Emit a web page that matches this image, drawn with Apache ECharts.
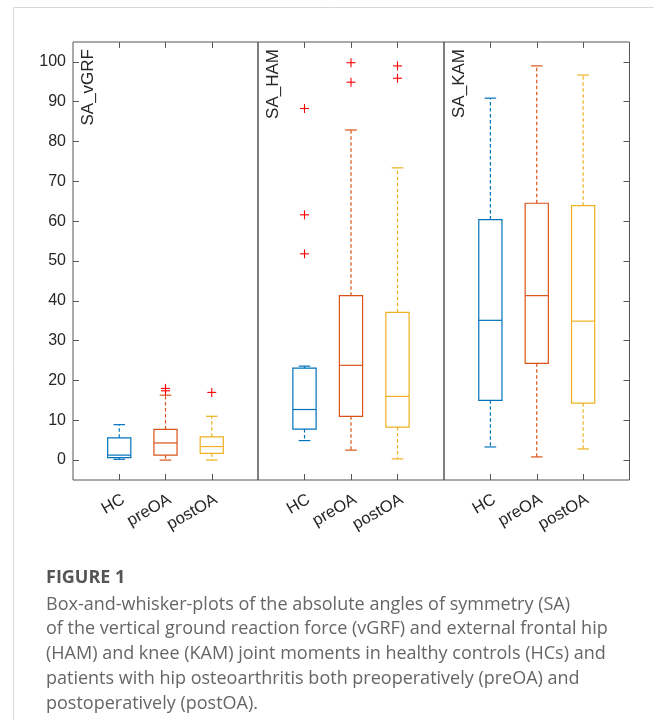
<!DOCTYPE html>
<html><head><meta charset="utf-8">
<script src="https://cdn.jsdelivr.net/npm/echarts@6/dist/echarts.min.js"></script>
<style>html,body{margin:0;padding:0;background:#fff}#c{width:654px;height:720px}</style>
</head><body><div id="c"></div><script>
// ---- data ----
const groups = ['HC', 'preOA', 'postOA'];
const panelNames = ['SA_vGRF', 'SA_HAM', 'SA_KAM'];
const yTicks = [0, 10, 20, 30, 40, 50, 60, 70, 80, 90, 100];
// per group: [lower whisker, Q1, median, Q3, upper whisker]
const vGRFBox = [[0.2, 0.6, 1.25, 5.6, 8.9], [0, 1.25, 4.3, 7.7, 16.3], [0, 1.7, 3.4, 5.85, 11.0]];
const HAMBox  = [[4.9, 7.8, 12.7, 23.1, 23.6], [2.5, 11.0, 23.8, 41.3, 82.9], [0.3, 8.3, 16.0, 37.1, 73.4]];
const KAMBox  = [[3.3, 15.0, 35.1, 60.4, 90.9], [0.8, 24.3, 41.3, 64.5, 99.0], [2.8, 14.3, 34.9, 63.9, 96.7]];
const vGRFOut = [[], [17.4, 18.0], [17.0]];
const HAMOut  = [[51.8, 61.6, 88.3], [94.9, 99.8], [95.9, 99.0]];
const KAMOut  = [[], [], []];
const captionTitle = 'FIGURE 1';
const captionLines = [
  'Box-and-whisker-plots of the absolute angles of symmetry (SA)',
  'of the vertical ground reaction force (vGRF) and external frontal hip',
  '(HAM) and knee (KAM) joint moments in healthy controls (HCs) and',
  'patients with hip osteoarthritis both preoperatively (preOA) and',
  'postoperatively (postOA).'
];

// ---- chart ----
const colors = ['#0072BD', '#D95319', '#EDB120'];
const axisCol = '#555555';
const boxes = [vGRFBox, HAMBox, KAMBox];
const outs = [vGRFOut, HAMOut, KAMOut];
const cats = [''].concat(groups, ['']);
const gridPos = [{left: 73, width: 185}, {left: 258, width: 186}, {left: 444, width: 185.5}];
const gTop = 42, gH = 438;

function renderBox(params, api) {
  const xi = api.value(0);
  const col = colors[xi - 1];
  const bw = api.size([1, 0])[0];
  const hw = bw * 0.25, cw = bw * 0.125;
  const lo = api.coord([xi, api.value(1)]);
  const q1 = api.coord([xi, api.value(2)]);
  const md = api.coord([xi, api.value(3)]);
  const q3 = api.coord([xi, api.value(4)]);
  const hi = api.coord([xi, api.value(5)]);
  const x = lo[0];
  const solid = {stroke: col, lineWidth: 1.2, fill: null};
  const dash = {stroke: col, lineWidth: 1.2, lineDash: [3.5, 2.5], fill: null};
  return {type: 'group', children: [
    {type: 'line', shape: {x1: x, y1: q3[1], x2: x, y2: hi[1]}, style: dash},
    {type: 'line', shape: {x1: x, y1: q1[1], x2: x, y2: lo[1]}, style: dash},
    {type: 'line', shape: {x1: x - cw, y1: hi[1], x2: x + cw, y2: hi[1]}, style: solid},
    {type: 'line', shape: {x1: x - cw, y1: lo[1], x2: x + cw, y2: lo[1]}, style: solid},
    {type: 'rect', shape: {x: x - hw, y: q3[1], width: 2 * hw, height: q1[1] - q3[1]}, style: solid},
    {type: 'line', shape: {x1: x - hw, y1: md[1], x2: x + hw, y2: md[1]}, style: solid}
  ]};
}
function renderPlus(params, api) {
  const p = api.coord([api.value(0), api.value(1)]);
  const s = 4.5;
  const st = {stroke: '#FF0000', lineWidth: 1.1};
  return {type: 'group', children: [
    {type: 'line', shape: {x1: p[0] - s, y1: p[1], x2: p[0] + s, y2: p[1]}, style: st},
    {type: 'line', shape: {x1: p[0], y1: p[1] - s, x2: p[0], y2: p[1] + s}, style: st}
  ]};
}

const grid = [], xAxis = [], yAxis = [], series = [], graphic = [];
const tickInt = function (i) { return i >= 1 && i <= 3; };
for (let g = 0; g < 3; g++) {
  grid.push({left: gridPos[g].left, width: gridPos[g].width, top: gTop, height: gH,
    show: true, borderColor: axisCol, borderWidth: 1, backgroundColor: 'transparent', outerBoundsMode: 'none'});
  const xBase = {type: 'category', data: cats, boundaryGap: false, gridIndex: g,
    axisLine: {show: false, onZero: false}, splitLine: {show: false},
    axisTick: {show: true, inside: true, length: 6, interval: tickInt, lineStyle: {color: axisCol}}};
  xAxis.push(Object.assign({}, xBase, {position: 'bottom',
    axisLabel: {show: true, interval: tickInt, rotate: 30, margin: 11, fontSize: 16.5,
      verticalAlign: 'top', color: '#262626', fontFamily: 'Liberation Sans'}}));
  xAxis.push(Object.assign({}, xBase, {position: 'top', axisLabel: {show: false}}));
  yAxis.push({type: 'value', gridIndex: g, min: -5, max: 105, position: 'left',
    axisLine: {show: false, onZero: false}, splitLine: {show: false},
    axisTick: {show: g === 0, inside: true, length: 6, customValues: yTicks, lineStyle: {color: axisCol}},
    axisLabel: {show: g === 0, customValues: yTicks, fontSize: 16, margin: 7,
      color: '#262626', fontFamily: 'Liberation Sans'}});
  const boxData = boxes[g].map((b, i) => [i + 1].concat(b));
  series.push({type: 'custom', xAxisIndex: 2 * g, yAxisIndex: g, renderItem: renderBox,
    data: boxData, silent: true, clip: false});
  const outData = [];
  outs[g].forEach((arr, i) => arr.forEach(v => outData.push([i + 1, v])));
  series.push({type: 'custom', xAxisIndex: 2 * g, yAxisIndex: g, renderItem: renderPlus,
    data: outData, silent: true, clip: false});
  graphic.push({type: 'text', x: gridPos[g].left + 7, y: gTop + 7, rotation: Math.PI / 2,
    style: {text: panelNames[g], font: '17px "Liberation Sans"', fill: '#262626',
      textAlign: 'right', textVerticalAlign: 'top'}});
}
// right-side ticks on last panel
yAxis.push({type: 'value', gridIndex: 2, min: -5, max: 105, position: 'right',
  axisLine: {show: false, onZero: false}, splitLine: {show: false}, axisLabel: {show: false},
  axisTick: {show: true, inside: true, length: 6, customValues: yTicks, lineStyle: {color: axisCol}}});

// card border
graphic.push({type: 'line', shape: {x1: 13.5, y1: 7.5, x2: 654, y2: 7.5}, style: {stroke: '#d9d9d9', lineWidth: 1}});
graphic.push({type: 'line', shape: {x1: 13.5, y1: 7.5, x2: 13.5, y2: 720}, style: {stroke: '#d9d9d9', lineWidth: 1}});
// caption
graphic.push({type: 'text', x: 46, y: 569, style: {text: captionTitle,
  font: 'bold 18px "Open Sans"', fill: '#555555', textVerticalAlign: 'top'}});
graphic.push({type: 'text', x: 46, y: 592, style: {text: captionLines.join('\n'),
  font: '18px "Open Sans"', lineHeight: 24.8, fill: '#666666', textVerticalAlign: 'top'}});

const chart = echarts.init(document.getElementById('c'), null, {renderer: 'canvas'});
chart.setOption({animation: false, backgroundColor: '#ffffff', grid, xAxis, yAxis, series, graphic});
</script></body></html>
